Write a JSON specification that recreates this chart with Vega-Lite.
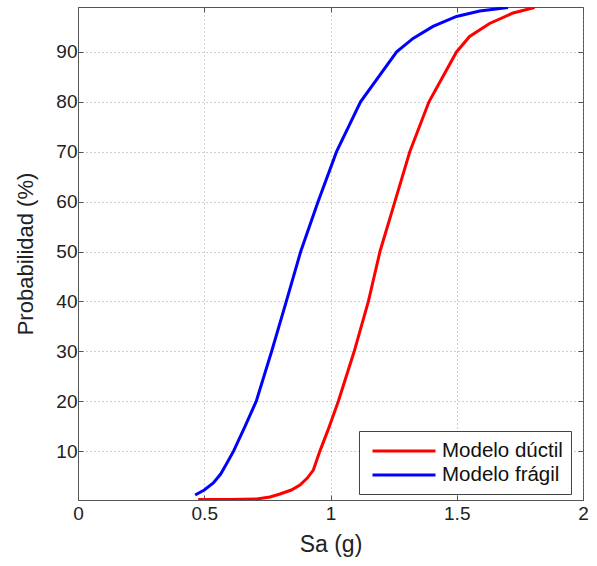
{
  "$schema": "https://vega.github.io/schema/vega-lite/v6.json",
  "autosize": "none",
  "width": 505,
  "height": 493,
  "padding": {"left": 78, "top": 7, "right": 14, "bottom": 66},
  "background": "white",
  "config": {
    "font": "Liberation Sans",
    "view": {"stroke": "#555", "strokeWidth": 1}
  },
  "data": {
    "values": [
      {"modelo": "Modelo dúctil", "sa": 0.476, "p": 0.3},
      {"modelo": "Modelo dúctil", "sa": 0.60, "p": 0.3},
      {"modelo": "Modelo dúctil", "sa": 0.708, "p": 0.4},
      {"modelo": "Modelo dúctil", "sa": 0.76, "p": 0.8},
      {"modelo": "Modelo dúctil", "sa": 0.80, "p": 1.4},
      {"modelo": "Modelo dúctil", "sa": 0.845, "p": 2.2},
      {"modelo": "Modelo dúctil", "sa": 0.879, "p": 3.2},
      {"modelo": "Modelo dúctil", "sa": 0.908, "p": 4.6},
      {"modelo": "Modelo dúctil", "sa": 0.932, "p": 6.2},
      {"modelo": "Modelo dúctil", "sa": 0.958, "p": 10},
      {"modelo": "Modelo dúctil", "sa": 0.99, "p": 14.2},
      {"modelo": "Modelo dúctil", "sa": 1.031, "p": 20},
      {"modelo": "Modelo dúctil", "sa": 1.094, "p": 30},
      {"modelo": "Modelo dúctil", "sa": 1.150, "p": 40},
      {"modelo": "Modelo dúctil", "sa": 1.196, "p": 50},
      {"modelo": "Modelo dúctil", "sa": 1.255, "p": 60},
      {"modelo": "Modelo dúctil", "sa": 1.314, "p": 70},
      {"modelo": "Modelo dúctil", "sa": 1.39, "p": 80},
      {"modelo": "Modelo dúctil", "sa": 1.499, "p": 90},
      {"modelo": "Modelo dúctil", "sa": 1.551, "p": 93.1},
      {"modelo": "Modelo dúctil", "sa": 1.630, "p": 95.7},
      {"modelo": "Modelo dúctil", "sa": 1.723, "p": 97.8},
      {"modelo": "Modelo dúctil", "sa": 1.808, "p": 98.9},
      {"modelo": "Modelo frágil", "sa": 0.464, "p": 1.2},
      {"modelo": "Modelo frágil", "sa": 0.50, "p": 2.2},
      {"modelo": "Modelo frágil", "sa": 0.536, "p": 3.6},
      {"modelo": "Modelo frágil", "sa": 0.565, "p": 5.4},
      {"modelo": "Modelo frágil", "sa": 0.59, "p": 7.6},
      {"modelo": "Modelo frágil", "sa": 0.616, "p": 10},
      {"modelo": "Modelo frágil", "sa": 0.662, "p": 15},
      {"modelo": "Modelo frágil", "sa": 0.706, "p": 20},
      {"modelo": "Modelo frágil", "sa": 0.767, "p": 30},
      {"modelo": "Modelo frágil", "sa": 0.825, "p": 40},
      {"modelo": "Modelo frágil", "sa": 0.882, "p": 50},
      {"modelo": "Modelo frágil", "sa": 0.951, "p": 60},
      {"modelo": "Modelo frágil", "sa": 1.024, "p": 70},
      {"modelo": "Modelo frágil", "sa": 1.119, "p": 80},
      {"modelo": "Modelo frágil", "sa": 1.262, "p": 90},
      {"modelo": "Modelo frágil", "sa": 1.327, "p": 92.7},
      {"modelo": "Modelo frágil", "sa": 1.406, "p": 95.1},
      {"modelo": "Modelo frágil", "sa": 1.499, "p": 97.1},
      {"modelo": "Modelo frágil", "sa": 1.591, "p": 98.2},
      {"modelo": "Modelo frágil", "sa": 1.703, "p": 98.9}
    ]
  },
  "layer": [
    {
      "mark": {"type": "line", "strokeWidth": 3, "clip": true},
      "encoding": {
        "x": {
          "field": "sa", "type": "quantitative",
          "scale": {"domain": [0, 2], "nice": false, "zero": false},
          "axis": {
            "title": "Sa (g)", "values": [0, 0.5, 1, 1.5, 2], "format": "~g",
            "orient": "bottom",
            "labelFontSize": 19, "labelColor": "#222", "labelPadding": 9,
            "titleFontSize": 23, "titleFontWeight": "normal", "titleColor": "#222", "titlePadding": 10,
            "domainColor": "#555", "ticks": true, "tickSize": -5, "tickColor": "#555",
            "grid": true, "gridDash": [1, 3], "gridColor": "#888", "gridOpacity": 0.8,
            "labelFlush": false
          }
        },
        "y": {
          "field": "p", "type": "quantitative",
          "scale": {"domain": [0.2, 99], "nice": false, "zero": false},
          "axis": {
            "title": "Probabilidad (%)", "values": [10, 20, 30, 40, 50, 60, 70, 80, 90],
            "orient": "left",
            "labelFontSize": 19, "labelColor": "#222", "labelPadding": 6,
            "titleFontSize": 22, "titleFontWeight": "normal", "titleColor": "#222", "titlePadding": 18,
            "domainColor": "#555", "ticks": true, "tickSize": -5, "tickColor": "#555",
            "grid": true, "gridDash": [1, 3], "gridColor": "#888", "gridOpacity": 0.8
          }
        },
        "color": {
          "field": "modelo", "type": "nominal",
          "scale": {"domain": ["Modelo dúctil", "Modelo frágil"], "range": ["#ff0000", "#0000ff"]},
          "legend": {
            "title": null, "orient": "none", "legendX": 281, "legendY": 424,
            "symbolType": "M-3,0H3", "symbolSize": 441, "symbolStrokeWidth": 3, "symbolOffset": 25,
            "labelFontSize": 20.5, "labelColor": "#111", "labelOffset": 26,
            "strokeColor": "#444", "fillColor": "white", "padding": 8,
            "rowPadding": 1
          }
        }
      }
    },
    {
      "mark": {"type": "line", "opacity": 0},
      "encoding": {
        "x": {
          "field": "sa", "type": "quantitative",
          "axis": {"orient": "top", "values": [0, 0.5, 1, 1.5, 2], "labels": false, "title": null, "domain": false, "ticks": true, "tickSize": -5, "tickColor": "#555", "grid": false}
        },
        "y": {
          "field": "p", "type": "quantitative",
          "axis": {"orient": "right", "values": [10, 20, 30, 40, 50, 60, 70, 80, 90], "labels": false, "title": null, "domain": false, "ticks": true, "tickSize": -5, "tickColor": "#555", "grid": false}
        },
        "detail": {"field": "modelo"}
      }
    }
  ],
  "resolve": {"axis": {"x": "independent", "y": "independent"}}
}
